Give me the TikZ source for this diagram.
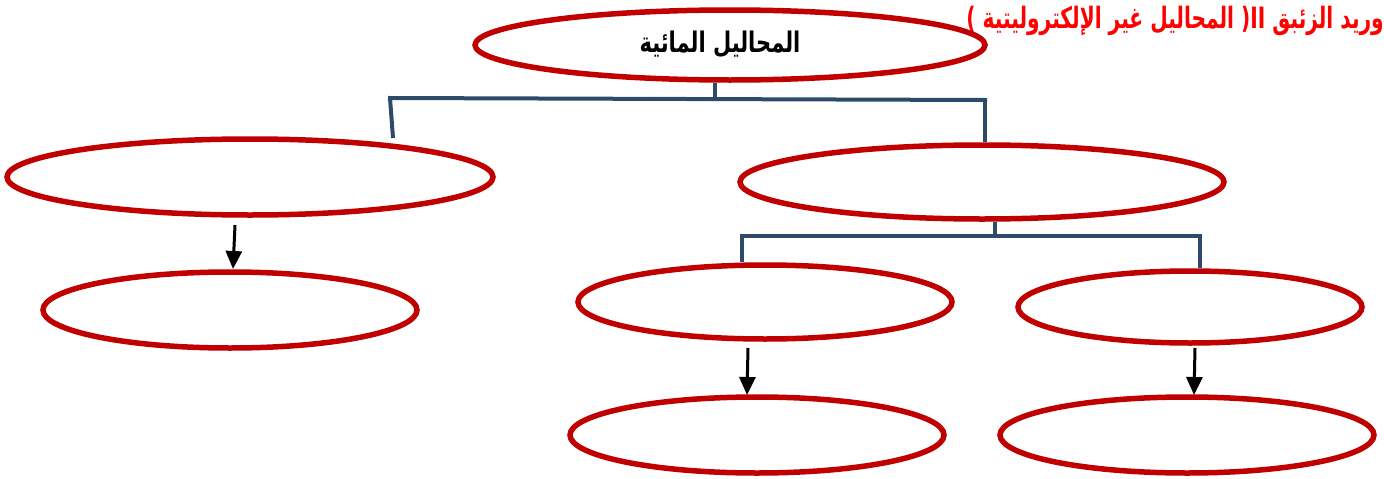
\documentclass[tikz,border=0pt]{standalone}
\usepackage{fontspec}
\usetikzlibrary{shapes.geometric,arrows.meta}
\TeXXeTstate=1
\newfontfamily\arabicfont[Script=Arabic]{DejaVu Sans}
\definecolor{ovalred}{HTML}{C00000}
\definecolor{linkblue}{HTML}{2E4A6B}
\definecolor{titlered}{HTML}{FF0000}
\tikzset{
  oval/.style={ellipse, draw=ovalred, line width=5.5pt, inner sep=0pt, fill=white},
  link/.style={draw=linkblue, line width=4pt},
  downarrow/.style={draw=black, line width=3pt, -{Triangle[length=18pt,width=16pt]}},
}
\begin{document}
\begin{tikzpicture}[x=1pt,y=-1pt]
\useasboundingbox (0,0) rectangle (1384,479);
% title
\node[anchor=east, text=titlered, font=\arabicfont\bfseries\fontsize{21}{24}\selectfont, inner sep=0pt] (title) at (1384,21) {\scalebox{0.96}[1.4]{\beginR وريد الزئبق \beginL II\endL( المحاليل غير الإلكتروليتية )\endR}};
% ovals
\node[oval, minimum width=510pt, minimum height=70pt] (top) at (730,45) {};
\node[font=\arabicfont\bfseries\fontsize{21}{24}\selectfont] (toptext) at (720,44) {\scalebox{1}[1.35]{\beginR المحاليل المائية\endR}};
\node[oval, minimum width=486pt, minimum height=76pt] (ml) at (250,177) {};
\node[oval, minimum width=484pt, minimum height=74pt] (mr) at (982,182) {};
\node[oval, minimum width=374pt, minimum height=76pt] (bl) at (230,310) {};
\node[oval, minimum width=374pt, minimum height=74pt] (cl) at (765,302) {};
\node[oval, minimum width=344pt, minimum height=72pt] (cr) at (1190,307) {};
\node[oval, minimum width=374pt, minimum height=76pt] (dl) at (757,435) {};
\node[oval, minimum width=374pt, minimum height=76pt] (dr) at (1187,435) {};
% junction coordinates
\coordinate (j1) at (715,99);
\coordinate (j1l) at (390,98);
\coordinate (j1r) at (985,100);
\coordinate (j2) at (995,236);
\coordinate (j2l) at (742,236);
\coordinate (j2r) at (1200,236);
% tree links
\draw[link] (top.south -| j1) -- (j1);
\draw[link, line cap=rect] (j1l) -- (j1r);
\draw[link] (j1l) -- (393,138);
\draw[link] (j1r) -- (mr.north -| j1r);
\draw[link] (mr.south -| j2) -- (j2);
\draw[link, line cap=rect] (j2l) -- (j2r);
\draw[link] (j2l) -- (cl.north -| j2l);
\draw[link] (j2r) -- (cr.north -| j2r);
% arrows
\coordinate (a1) at (235,225);
\coordinate (a2) at (748,348);
\coordinate (a3) at (1195,348);
\draw[downarrow] (a1) -- (233,269);
\draw[downarrow] (a2) -- (747,395);
\draw[downarrow] (a3) -- (1194,395);
\end{tikzpicture}
\end{document}
